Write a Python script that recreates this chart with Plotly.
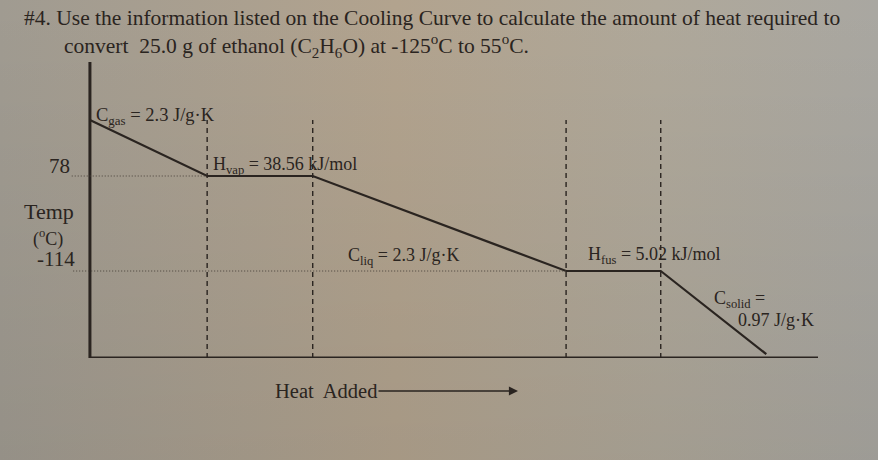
import base64
import plotly.graph_objects as go

# ---- data ----
heat_added = [0, 16.1, 30.6, 65.4, 78.4, 92.9]          # arbitrary heat units
temperature = [191, 78, 78, -114, -114, -282]          # deg C (schematic curve)
phase_boundaries = [16.1, 30.6, 65.4, 78.4]
tick_values = [78, -114]
tick_labels = ["78", "-114"]
segment_labels = [
    "C<sub>gas</sub> = 2.3 J/g·K",
    "H<sub>vap</sub> = 38.56 kJ/mol",
    "C<sub>liq</sub> = 2.3 J/g·K",
    "H<sub>fus</sub> = 5.02 kJ/mol",
    "C<sub>solid</sub> =",
    "0.97 J/g·K",
]
title_line1 = "#4. Use the information listed on the Cooling Curve to calculate the amount of heat required to"
title_line2 = "convert  25.0 g of ethanol (C<sub>2</sub>H<sub>6</sub>O) at -125<sup>o</sup>C to 55<sup>o</sup>C."

W, H = 878, 460
INK = "#2a2420"
FONT = "Liberation Serif, Times New Roman, serif"

Y_MIN, Y_MAX = -289.8, 308.4
X_MIN, X_MAX = -2.6, 100

fig = go.Figure()
fig.add_trace(go.Scatter(x=heat_added, y=temperature, mode="lines",
                         line=dict(color=INK, width=2.2), hoverinfo="skip",
                         showlegend=False))

# axis lines
fig.add_shape(type="line", xref="x", yref="y", x0=0, x1=0, y0=Y_MIN - 2, y1=Y_MAX,
              line=dict(color=INK, width=3))
fig.add_shape(type="line", xref="x", yref="y", x0=0, x1=X_MAX, y0=Y_MIN, y1=Y_MIN,
              line=dict(color=INK, width=3))

# dashed phase boundaries
for xb in phase_boundaries:
    fig.add_shape(type="line", xref="x", yref="y", x0=xb, x1=xb, y0=Y_MIN, y1=temperature[0],
                  line=dict(color=INK, width=1.4, dash="5px,4px"))

# dotted guide lines at the plateau temperatures
fig.add_shape(type="line", xref="x", yref="y", x0=-2.5, x1=heat_added[1], y0=tick_values[0], y1=tick_values[0],
              line=dict(color="#4a423a", width=1, dash="1px,2px"))
fig.add_shape(type="line", xref="x", yref="y", x0=-2.3, x1=heat_added[3], y0=tick_values[1], y1=tick_values[1],
              line=dict(color="#4a423a", width=1, dash="1px,2px"))

# tick labels
fig.add_annotation(x=-2.4, y=tick_values[0], xref="x", yref="y", text=tick_labels[0],
                   showarrow=False, xanchor="right", yanchor="middle", yshift=10,
                   font=dict(family=FONT, size=21, color=INK))
fig.add_annotation(x=-1.8, y=tick_values[1], xref="x", yref="y", text=tick_labels[1],
                   showarrow=False, xanchor="right", yanchor="middle", yshift=12,
                   font=dict(family=FONT, size=21, color=INK))

def pa(text, px, py, size=18, xanchor="left"):
    fig.add_annotation(x=px / W, y=1 - py / H, xref="paper", yref="paper", text=text,
                       showarrow=False, xanchor=xanchor, yanchor="middle",
                       font=dict(family=FONT, size=size, color=INK))

# axis title
pa("Temp", 49, 211, size=22, xanchor="center")
pa("(<sup>o</sup>C)", 48, 238, size=18, xanchor="center")

# segment labels
pa(segment_labels[0], 94, 117, size=18.5)
pa(segment_labels[1], 211, 165)
pa(segment_labels[2], 346, 256)
pa(segment_labels[3], 586, 255)
pa(segment_labels[4], 712, 299)
pa(segment_labels[5], 736, 320)

# title
pa(title_line1, 22, 18, size=21.5)
pa(title_line2, 62, 46, size=21.5)

# Heat Added arrow
fig.add_annotation(x=518 / W, y=1 - 391 / H, xref="paper", yref="paper",
                   ax=-192, ay=0, text="Heat  Added", showarrow=True,
                   arrowhead=2, arrowsize=1.3, arrowwidth=1.4, arrowcolor=INK,
                   font=dict(family=FONT, size=20.5, color=INK))

# photographic paper background
svg = f'''<svg xmlns="http://www.w3.org/2000/svg" width="{W}" height="{H}">
<defs>
<linearGradient id="h" x1="0" x2="1" y1="0" y2="0">
<stop offset="0" stop-color="#a09b91"/>
<stop offset="0.45" stop-color="#b2a38e"/>
<stop offset="0.75" stop-color="#afa89a"/>
<stop offset="1" stop-color="#a9a7a1"/>
</linearGradient>
<linearGradient id="v" x1="0" x2="0" y1="0" y2="1">
<stop offset="0" stop-color="#000" stop-opacity="0"/>
<stop offset="1" stop-color="#000" stop-opacity="0.07"/>
</linearGradient>
</defs>
<rect width="{W}" height="{H}" fill="url(#h)"/>
<rect width="{W}" height="{H}" fill="url(#v)"/>
</svg>'''
src = "data:image/svg+xml;base64," + base64.b64encode(svg.encode()).decode()
fig.add_layout_image(source=src, xref="paper", yref="paper", x=0, y=1, sizex=1, sizey=1,
                     sizing="stretch", layer="below", xanchor="left", yanchor="top")

fig.update_layout(
    width=W, height=H,
    margin=dict(l=0, r=0, t=0, b=0),
    paper_bgcolor="#aca393", plot_bgcolor="rgba(0,0,0,0)",
    xaxis=dict(domain=[71 / W, 818 / W], range=[X_MIN, X_MAX], visible=False, fixedrange=True),
    yaxis=dict(domain=[(H - 358) / H, (H - 62) / H], range=[Y_MIN, Y_MAX], visible=False, fixedrange=True),
    font=dict(family=FONT, color=INK),
)

fig.write_html("out.html", config={"displayModeBar": False},
               post_script="document.body.style.margin='0';document.body.style.padding='0';document.body.style.overflow='hidden';")
